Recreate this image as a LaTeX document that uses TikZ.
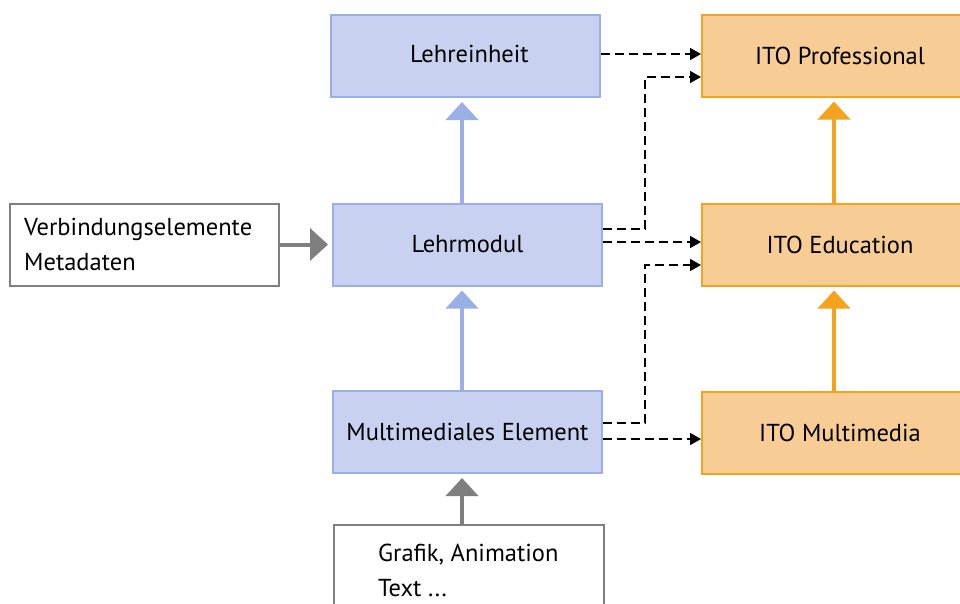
\documentclass[tikz,border=0pt]{standalone}
\usepackage{fontspec}
\setmainfont{PT Sans}
\usetikzlibrary{arrows.meta}
\definecolor{blfill}{HTML}{C8D2F0}
\definecolor{bldraw}{HTML}{9AAFE5}
\definecolor{orfill}{HTML}{F8CC95}
\definecolor{ordraw}{HTML}{F5A21E}
\definecolor{grdraw}{HTML}{7F7F7F}
\tikzset{
  box/.style={rectangle, line width=2pt, minimum width=269pt, minimum height=82pt,
              inner sep=0pt, font=\fontsize{24.5}{28}\selectfont},
  bluebox/.style={box, fill=blfill, draw=bldraw},
  orbox/.style={box, fill=orfill, draw=ordraw, minimum width=276pt},
  graybox/.style={box, fill=white, draw=grdraw},
  label/.style={inner sep=0pt, align=left, font=\fontsize{24.5}{35}\selectfont, anchor=west},
  thick arrow/.style={line width=4pt, -{Triangle[width=32pt,length=18pt]}, shorten >=4pt},
  bluearrow/.style={thick arrow, draw=bldraw, fill=bldraw},
  orarrow/.style={thick arrow, draw=ordraw, fill=ordraw},
  grarrow/.style={thick arrow, draw=grdraw, fill=grdraw},
  link/.style={line width=1.6pt, dash pattern=on 9pt off 5pt, -{Triangle[width=12pt,length=11pt]}}
}
\begin{document}
\begin{tikzpicture}[x=1pt,y=-1pt]
\useasboundingbox (0,0) rectangle (960,603);
\clip (0,0) rectangle (960,603);

% left column: course structure
\node[bluebox] (einheit) at (465.5,56) {};
\node (einheittext) at (469.5,54) [font=\fontsize{24.5}{28}\selectfont] {Lehreinheit};
\node[bluebox] (modul) at (467.5,244.5) {Lehrmodul};
\node[bluebox] (element) at (467.5,432) {Multimediales Element};
\node[graybox, minimum width=270pt, minimum height=110pt] (grafik) at (469,580) {};
\node[label] (grafiktext) at (378,570) {Grafik, Animation\\Text ...};
\node[graybox] (verbind) at (144.5,244.5) {};
\node[label] (verbindtext) at (24,244.5) {Verbindungselemente\\Metadaten};

% right column: ITO levels
\node[orbox] (prof) at (840,55.5) {ITO Professional};
\node[orbox] (edu) at (840,244.5) {ITO Education};
\node[orbox] (mm) at (840,432.5) {ITO Multimedia};

% hierarchy arrows
\draw[bluearrow] (modul.north -| 462,0) -- (einheit.south -| 462,0);
\draw[bluearrow] (element.north -| 462,0) -- (modul.south -| 462,0);
\draw[grarrow] (grafik.north -| 462,0) -- (element.south -| 462,0);
\draw[grarrow] (verbind.east) -- (modul.west);
\draw[orarrow] (edu.north -| 834,0) -- (prof.south -| 834,0);
\draw[orarrow] (mm.north -| 834,0) -- (edu.south -| 834,0);

% mapping links
\coordinate (k1) at (645,229);
\coordinate (k2) at (645,423);
\draw[link] (einheit.east |- 0,54) -- (prof.west |- 0,54);
\draw[link] (modul.east |- k1) -- (k1) -- (645,77) -- (prof.west |- 0,77);
\draw[link] (modul.east |- 0,242) -- (edu.west |- 0,242);
\draw[link] (element.east |- k2) -- (k2) -- (645,265) -- (edu.west |- 0,265);
\draw[link] (element.east |- 0,439) -- (mm.west |- 0,439);
\end{tikzpicture}
\end{document}
